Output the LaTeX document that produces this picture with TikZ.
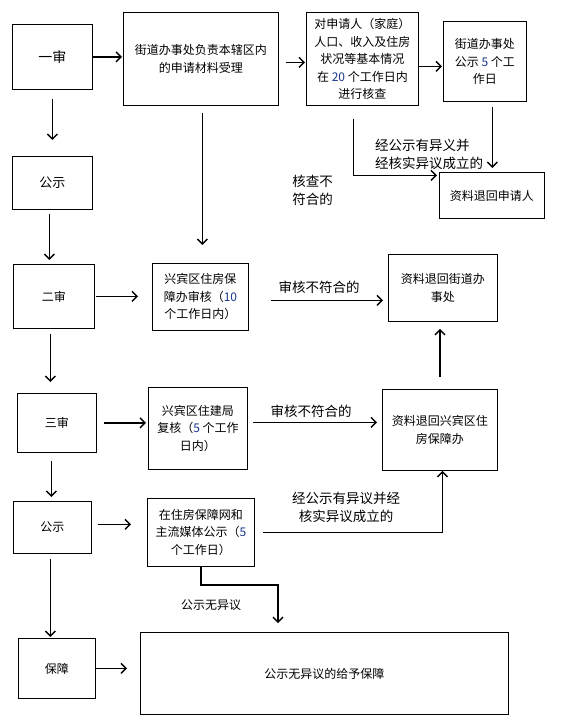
\documentclass[tikz,border=0pt]{standalone}
\usepackage{fontspec}
\newfontfamily\cjk{Noto Sans CJK SC}
\usetikzlibrary{arrows.meta}
\definecolor{digblue}{RGB}{25,55,140}
\tikzset{
  box/.style={draw, line width=0.9pt, anchor=north west, inner sep=0pt, align=center,
    font=\cjk\fontsize{12}{17.5}\selectfont},
  arr/.style={line width=1.7pt, -{Straight Barb[length=5pt,width=10pt,line width=1.4pt]}},
  lbl/.style={inner sep=0pt, align=center, font=\cjk\fontsize{13.5}{18}\selectfont},
}
\newcommand{\bx}[7]{\node[box, minimum width=#4pt, minimum height=#5pt, #6] (#1) at (#2,#3) {#7};}
\begin{document}
\begin{tikzpicture}[x=1pt,y=-1pt]
\useasboundingbox (0,0) rectangle (561,728);
% boxes
\bx{A}{12}{24}{80}{65}{font=\cjk\fontsize{14}{17}\selectfont}{一审}
\bx{B}{123}{12}{155}{93}{}{街道办事处负责本辖区内\\的申请材料受理}
\bx{C}{306}{12}{112}{93}{}{对申请人（家庭）\\人口、收入及住房\\状况等基本情况\\在 \textcolor{digblue}{20} 个工作日内\\进行核查}
\bx{D}{443}{21}{83}{80}{}{街道办事处\\公示 \textcolor{digblue}{5} 个工\\作日}
\bx{E}{439}{172}{105}{46}{}{资料退回申请人}
\bx{F}{12}{156}{80}{53}{font=\cjk\fontsize{13}{17}\selectfont}{公示}
\bx{G}{13}{264}{81}{64}{}{二审}
\bx{H}{152}{263}{96}{67}{}{兴宾区住房保\\障办审核（\textcolor{digblue}{10}\\个工作日内）}
\bx{I}{388}{254}{109}{67}{}{资料退回街道办\\事处}
\bx{J}{17}{393}{79}{59}{}{三审}
\bx{K}{148}{387}{99}{82}{}{兴宾区住建局\\复核（\textcolor{digblue}{5} 个工作\\日内）}
\bx{L}{382}{389}{115}{81}{}{资料退回兴宾区住\\房保障办}
\bx{M}{13}{501}{78}{52}{}{公示}
\bx{N}{147}{498}{107}{68}{}{在住房保障网和\\主流媒体公示（\textcolor{digblue}{5}\\个工作日）}
\bx{O}{18}{638}{77}{60}{}{保障}
\bx{P}{140}{632}{368}{82}{}{公示无异议的给予保障}
% connectors
\draw[arr, shorten >=1pt] (A.east) -- (A.east -| B.west);
\draw[arr, shorten <=7pt, shorten >=1pt] ([yshift=-3.5pt]B.east) -- ([yshift=-3.5pt]B.east -| C.west);
\draw[arr, shorten >=1pt] ([yshift=-7.5pt]C.east) -- ([yshift=-7.5pt]C.east -| D.west);
\draw[arr, shorten <=5pt, shorten >=4pt] ([xshift=7.5pt]D.south) -- ([xshift=7.5pt]D.south |- E.north);
\draw[arr, shorten <=13pt, shorten >=2pt] ([xshift=-9pt]C.south) |- ([yshift=20pt]E.west);
\draw[arr, shorten <=7pt, shorten >=18pt] ([xshift=1.5pt]B.south) -- ([xshift=1.5pt]B.south |- H.north);
\draw[arr, shorten <=9pt, shorten >=16pt] (A.south) -- (A.south |- F.north);
\draw[arr, shorten <=4pt, shorten >=4pt] ([xshift=-3pt]F.south) -- ([xshift=-3pt]F.south |- G.north);
\draw[arr, shorten <=1pt, shorten >=14pt] (G.east) -- (G.east -| H.west);
\draw[arr, shorten <=5pt, shorten >=11pt] ([xshift=-3.5pt]G.south) -- ([xshift=-3.5pt]G.south |- J.north);
\draw[arr, shorten <=7pt, shorten >=2pt] (J.east) -- (J.east -| K.west);
\draw[arr, shorten <=8pt, shorten >=4pt] ([xshift=-5.5pt]J.south) -- ([xshift=-5.5pt]J.south |- M.north);
\draw[arr, shorten <=6pt, shorten >=16pt] ([yshift=3pt]M.east) -- ([yshift=3pt]M.east -| N.west);
\draw[arr, shorten <=5pt, shorten >=1pt] ([xshift=-2pt]M.south) -- ([xshift=-2pt]M.south |- O.north);
\draw[arr, shorten >=13pt] (O.east) -- (O.east -| P.west);
\draw[arr, shorten <=22pt, shorten >=5pt] ([yshift=-3.5pt]H.east) -- ([yshift=-3.5pt]H.east -| I.west);
\draw[arr, shorten <=5pt, shorten >=5pt] ([yshift=6pt]K.east) -- ([yshift=6pt]K.east -| L.west);
\draw[arr, shorten <=12pt, shorten >=7pt] (L.north) -- (L.north |- I.south);
\draw[arr, shorten <=8pt] (N.east) -| ([xshift=2.5pt]L.south);
\coordinate (n1) at (278,585);
\draw[arr, shorten >=9pt] (N.south) |- (n1) -- (n1 |- P.north);
% labels
\node[lbl, align=left] (t1) at (312.5,190) {核查不\\符合的};
\node[lbl, align=left] (t2) at (429,154) {经公示有异义并\\经核实异议成立的};
\node[lbl] (t3) at (319,287) {审核不符合的};
\node[lbl] (t4) at (311,411) {审核不符合的};
\node[lbl] (t5) at (346,507) {经公示有异议并经\\核实异议成立的};
\node[lbl, font=\cjk\fontsize{12}{16}\selectfont] (t6) at (211,605) {公示无异议};
\end{tikzpicture}
\end{document}
